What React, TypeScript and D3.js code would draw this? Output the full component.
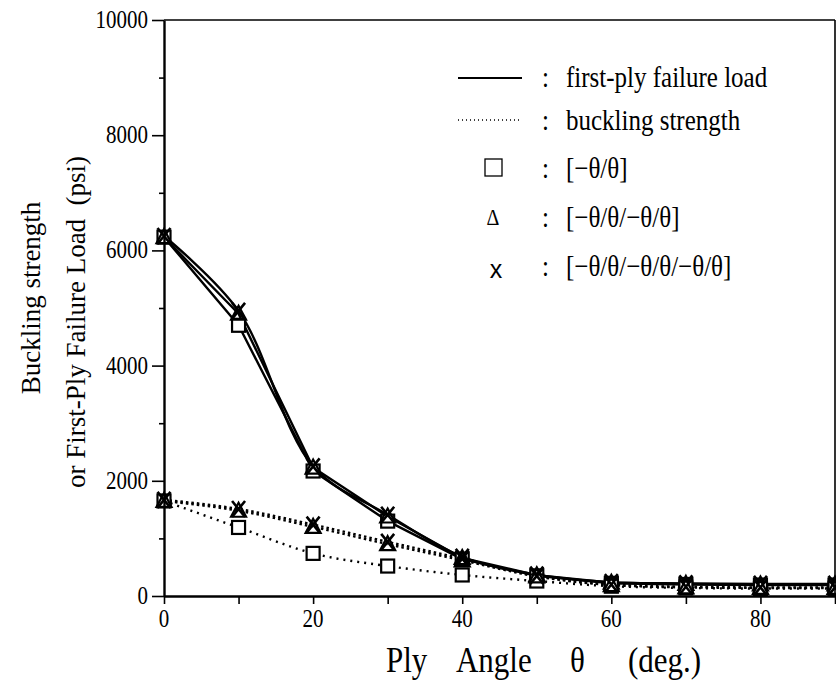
import { useEffect, useRef } from 'react';
import * as d3 from 'd3';

const W = 836;
const H = 681;
const PLOT = { left: 164, right: 835, top: 20, bottom: 596 };

// ply angle (deg.)
const theta = [0, 10, 20, 30, 40, 50, 60, 70, 80, 90];

// first-ply failure load (psi)
const fplSquare = [6230, 4700, 2170, 1300, 640, 350, 220, 200, 190, 190];
const fplTriangle = [6230, 4900, 2230, 1380, 660, 360, 230, 210, 200, 200];
const fplCross = [6250, 4950, 2250, 1410, 680, 370, 240, 220, 210, 210];

// buckling strength (psi)
const bkSquare = [1650, 1190, 740, 520, 365, 260, 170, 140, 130, 130];
const bkTriangle = [1650, 1480, 1200, 900, 620, 340, 190, 150, 140, 140];
const bkCross = [1670, 1510, 1240, 940, 650, 350, 200, 160, 150, 150];

const yTickLabels = [0, 2000, 4000, 6000, 8000, 10000];
const xTickLabels = [0, 20, 40, 60, 80];

const SERIF = '"Liberation Serif", "Times New Roman", serif';
const STRETCH = 1.17; // the scan's lettering is tall and narrow

type Marker = 'square' | 'triangle' | 'cross';
type G = d3.Selection<SVGGElement, unknown, null, undefined>;

function drawMarker(g: G, kind: Marker, cx: number, cy: number) {
  if (kind === 'square') {
    g.append('rect')
      .attr('x', cx - 6.5).attr('y', cy - 6.5).attr('width', 13).attr('height', 13)
      .attr('fill', 'white').attr('stroke', '#000').attr('stroke-width', 2.2);
  } else if (kind === 'triangle') {
    g.append('path')
      .attr('d', `M${cx},${cy - 8}L${cx + 7.5},${cy + 6}L${cx - 7.5},${cy + 6}Z`)
      .attr('fill', 'none').attr('stroke', '#000').attr('stroke-width', 2.2);
  } else {
    g.append('path')
      .attr('d', `M${cx - 6.5},${cy - 8}L${cx + 6.5},${cy + 8}M${cx + 6.5},${cy - 8}L${cx - 6.5},${cy + 8}`)
      .attr('fill', 'none').attr('stroke', '#000').attr('stroke-width', 2.6);
  }
}

// text stretched vertically about its own baseline
function tallText(g: G, tx: number, ty: number, s: string, size: number, anchor = 'start') {
  return g.append('text')
    .attr('transform', `translate(${tx},${ty}) scale(1,${STRETCH})`)
    .attr('text-anchor', anchor)
    .attr('font-family', SERIF).attr('font-size', size).attr('fill', '#000')
    .text(s);
}

export default function App() {
  const svgRef = useRef<SVGSVGElement>(null);

  useEffect(() => {
    const svg = d3.select(svgRef.current);
    svg.selectAll('*').remove();

    const x = d3.scaleLinear().domain([0, 90]).range([PLOT.left, PLOT.right]);
    const y = d3.scaleLinear().domain([0, 10000]).range([PLOT.bottom, PLOT.top]);

    svg.append('rect').attr('width', W).attr('height', H).attr('fill', 'white');

    const series = [
      { vals: fplSquare, marker: 'square' as Marker, solid: true, curve: d3.curveLinear },
      { vals: fplTriangle, marker: 'triangle' as Marker, solid: true, curve: d3.curveLinear },
      { vals: fplCross, marker: 'cross' as Marker, solid: true, curve: d3.curveCatmullRom.alpha(0.5) },
      { vals: bkSquare, marker: 'square' as Marker, solid: false, curve: d3.curveMonotoneX },
      { vals: bkTriangle, marker: 'triangle' as Marker, solid: false, curve: d3.curveMonotoneX },
      { vals: bkCross, marker: 'cross' as Marker, solid: false, curve: d3.curveMonotoneX },
    ];

    const lines = svg.append('g');
    series.forEach(s => {
      const line = d3.line<number>()
        .x((_, i) => x(theta[i]))
        .y(d => y(d))
        .curve(s.curve);
      lines.append('path')
        .attr('d', line(s.vals))
        .attr('fill', 'none')
        .attr('stroke', '#000')
        .attr('stroke-width', 2.4)
        .attr('stroke-linejoin', 'round')
        .attr('stroke-dasharray', s.solid ? null : (s.marker === 'square' ? '2,5' : '2.5,3'));
    });

    const marks = svg.append('g');
    series.forEach(s => {
      s.vals.forEach((v, i) => drawMarker(marks, s.marker, x(theta[i]), y(v)));
    });

    // frame
    const frame = svg.append('g').attr('stroke', '#000').attr('fill', 'none');
    frame.append('line').attr('x1', PLOT.left).attr('x2', PLOT.right).attr('y1', PLOT.top).attr('y2', PLOT.top).attr('stroke-width', 1.6);
    frame.append('line').attr('x1', PLOT.right).attr('x2', PLOT.right).attr('y1', PLOT.top).attr('y2', PLOT.bottom).attr('stroke-width', 1.6);

    // y axis
    const yAxisMinor = svg.append('g').attr('transform', `translate(${PLOT.left},0)`)
      .call(d3.axisLeft(y).tickValues(d3.range(1000, 10000, 2000)).tickSize(5).tickFormat(() => ''));
    yAxisMinor.select('.domain').remove();
    yAxisMinor.selectAll('line').attr('stroke', '#000').attr('stroke-width', 1.6);

    const yAxis = svg.append('g').attr('transform', `translate(${PLOT.left},0)`)
      .call(d3.axisLeft(y).tickValues(yTickLabels).tickSize(12).tickFormat(() => '').tickSizeOuter(0));
    yAxis.select('.domain').attr('stroke', '#000').attr('stroke-width', 2.4);
    yAxis.selectAll('line').attr('stroke', '#000').attr('stroke-width', 1.6);

    const yLabels = svg.append('g');
    yTickLabels.forEach(v => tallText(yLabels, PLOT.left - 16, y(v) + 8, String(v), 21, 'end'));

    // x axis
    const xAxis = svg.append('g').attr('transform', `translate(0,${PLOT.bottom})`)
      .call(d3.axisBottom(x).tickValues(d3.range(0, 91, 10)).tickSize(8).tickFormat(() => '').tickSizeOuter(0));
    xAxis.select('.domain').attr('stroke', '#000').attr('stroke-width', 2.4);
    xAxis.selectAll('line').attr('stroke', '#000').attr('stroke-width', 1.6);

    const xLabels = svg.append('g');
    xTickLabels.forEach(v => tallText(xLabels, x(v), 627, String(v), 21, 'middle'));

    // x title, words spread apart as in the original
    const xTitle = svg.append('g');
    [['Ply', 386], ['Angle', 456], ['\u03b8', 570], ['(deg.)', 628]].forEach(([t, px]) => {
      tallText(xTitle, px as number, 672, t as string, 31);
    });

    // y title (two lines)
    svg.append('text')
      .attr('transform', 'translate(40,298) rotate(-90)')
      .attr('text-anchor', 'middle')
      .attr('font-family', SERIF).attr('font-size', 27)
      .text('Buckling strength');
    svg.append('text')
      .attr('transform', 'translate(85,322) rotate(-90)')
      .attr('text-anchor', 'middle')
      .attr('font-family', SERIF).attr('font-size', 27)
      .style('white-space', 'pre')
      .text('or First-Ply Failure Load  (psi)');

    // legend
    const leg = svg.append('g');
    leg.append('line').attr('x1', 458).attr('x2', 522).attr('y1', 78).attr('y2', 78)
      .attr('stroke', '#000').attr('stroke-width', 1.8);
    leg.append('line').attr('x1', 458).attr('x2', 522).attr('y1', 120).attr('y2', 120)
      .attr('stroke', '#000').attr('stroke-width', 1.3).attr('stroke-dasharray', '1,3');

    const legendRows = [
      { y: 87, label: 'first-ply failure load' },
      { y: 130, label: 'buckling strength' },
      { y: 178, label: '[\u2212\u03b8/\u03b8]' },
      { y: 227, label: '[\u2212\u03b8/\u03b8/\u2212\u03b8/\u03b8]' },
      { y: 276, label: '[\u2212\u03b8/\u03b8/\u2212\u03b8/\u03b8/\u2212\u03b8/\u03b8]' },
    ];
    legendRows.forEach(r => {
      tallText(leg, 542, r.y, ':', 25);
      tallText(leg, 566, r.y, r.label, 25);
    });
    leg.append('rect').attr('x', 485).attr('y', 159).attr('width', 17).attr('height', 17)
      .attr('fill', 'none').attr('stroke', '#000').attr('stroke-width', 1.3);
    tallText(leg, 493, 225, '\u0394', 20, 'middle');
    leg.append('text').attr('x', 496).attr('y', 278).attr('text-anchor', 'middle')
      .attr('font-family', '"Liberation Sans", Arial, sans-serif').attr('font-size', 25).text('x');
  }, []);

  return (
    <svg ref={svgRef} width={W} height={H} style={{ position: 'absolute', left: 0, top: 0 }} />
  );
}
